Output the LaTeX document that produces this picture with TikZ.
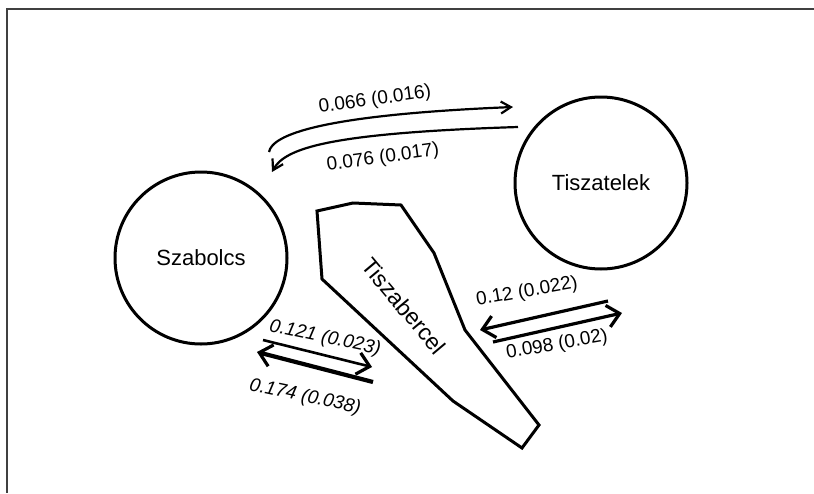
\documentclass[tikz,border=0pt]{standalone}
\usepackage{fontspec}
\setmainfont{Liberation Sans}
\usetikzlibrary{arrows.meta}
\begin{document}
\begin{tikzpicture}[x=0.5pt,y=-0.5pt,
  region/.style={circle,draw,line width=1.5pt,minimum size=86pt,inner sep=0pt,font=\fontsize{11}{13}\selectfont},
  poly/.style={draw,line width=1.5pt,line join=miter},
  polyname/.style={font=\fontsize{11.5}{13}\selectfont},
  lab/.style={font=\fontsize{9.5}{11}\selectfont,inner sep=1pt},
  itlab/.style={lab,font=\fontsize{9.5}{11}\selectfont\itshape},
  flow/.style={line width=1.1pt,-{Straight Barb[length=5pt,width=6pt,line width=1.1pt]}},
  bar/.style={line width=1.6pt,-{Straight Barb[length=6pt,width=11pt,line width=1.6pt]}}]
\useasboundingbox (0,0) rectangle (814,493);
\draw[line width=0.3pt,black!35] (7,8) -- (814,8);
\draw[line width=0.6pt,black!75] (814,9) -- (7,9) -- (7,493);

\node[region] (szab) at (201,258) {Szabolcs};
\node[region] (tisz) at (601,183) {Tiszatelek};
\draw[poly] (317,211) -- (353,203) -- (401,205) -- (434,253) -- (465,330) -- (539,425) -- (522,448) -- (453,401) -- (322,279) -- cycle;
\node[polyname,rotate=-50] (berc) at (404,306) {Tiszabercel};

\coordinate (a1s) at (269,152);
\coordinate (a1e) at (513,107);
\draw[flow] (a1s) .. controls (272,135) and (320,115) .. (a1e);
\coordinate (a2s) at (518,127);
\coordinate (a2e) at (272,172);
\draw[flow] (a2s) .. controls (330,133) and (285,148) .. (a2e);
\node[lab,rotate=8] (l1) at (375,100) {0.066 (0.016)};
\node[lab,rotate=8] (l2) at (383,158) {0.076 (0.017)};

\coordinate (b1s) at (263,340);
\coordinate (b1e) at (372,367);
\coordinate (b2s) at (373,382);
\coordinate (b2e) at (257,352);
\draw[bar,line width=1.3pt] (b1s) -- (b1e);
\draw[bar,line width=2.1pt] (b2s) -- (b2e);
\node[itlab,rotate=-12] (l3) at (325,338) {0.121 (0.023)};
\node[itlab,rotate=-12] (l4) at (305,397) {0.174 (0.038)};

\coordinate (c1s) at (608,301);
\coordinate (c1e) at (480,330);
\coordinate (c2s) at (493,342);
\coordinate (c2e) at (622,313);
\draw[bar] (c1s) -- (c1e);
\draw[bar] (c2s) -- (c2e);
\node[lab,rotate=10] (l5) at (527,292) {0.12 (0.022)};
\node[lab,rotate=10] (l6) at (557,345) {0.098 (0.02)};
\end{tikzpicture}
\end{document}
